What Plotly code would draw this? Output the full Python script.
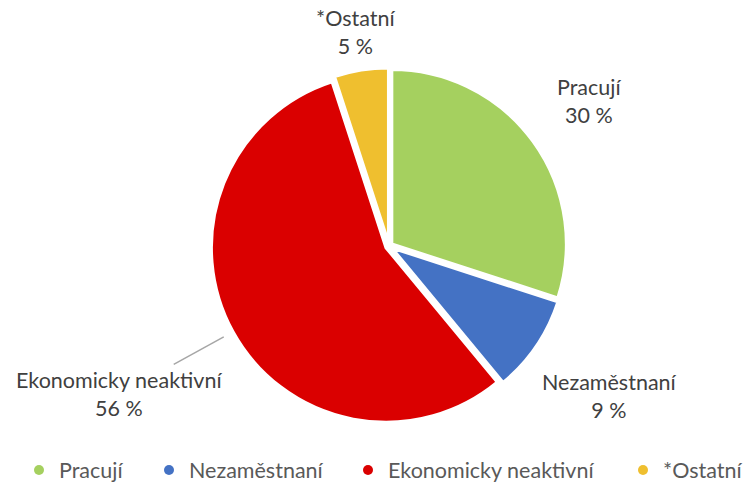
import math
import plotly.graph_objects as go

# ---- data ----
categories = ["Pracují", "Nezaměstnaní", "Ekonomicky neaktivní", "*Ostatní"]
values = [30, 9, 56, 5]
colors = ["#A5D05F", "#4472C4", "#DA0000", "#EFBF2F"]
label_dist = [1.43, 1.54, 1.78, 1.25]  # label distance factor (style)
legend_px = [39, 169, 368, 643]         # legend symbol x positions (style)

W, H = 748, 482
ML, MR, MT, MB = 30, 0, 68, 58
PW, PH = W - ML - MR, H - MT - MB
CX, CY = ML + PW / 2, MT + PH / 2
R = 173

FONT = "Lato, 'Open Sans', sans-serif"
FS = 21.5

fig = go.Figure()
fig.add_trace(go.Pie(
    labels=categories, values=values, sort=False, direction="clockwise",
    rotation=0, textinfo="none", hoverinfo="label+percent",
    marker=dict(colors=colors, line=dict(color="white", width=3)),
    pull=[0.02] * len(values), showlegend=False,
))

def to_paper(px, py):
    return (px - ML) / PW, (H - MB - py) / PH

total = sum(values)
cum = 0
annotations = []
for cat, v, d in zip(categories, values, label_dist):
    mid = (cum + v / 2) / total * 2 * math.pi
    cum += v
    px = CX + math.sin(mid) * R * d
    py = CY - math.cos(mid) * R * d
    xp, yp = to_paper(px, py)
    pct = round(v / total * 100)
    annotations.append(dict(
        x=xp, y=yp, xref="paper", yref="paper", showarrow=False,
        text=f"{cat}<br>{pct} %", align="center",
        xanchor="center", yanchor="middle",
        font=dict(family=FONT, size=FS, color="#404040"),
    ))

# leader line for the large slice
mid_e = (values[0] + values[1] + values[2] / 2) / total * 2 * math.pi
p0 = (CX + math.sin(mid_e) * R * 1.09, CY - math.cos(mid_e) * R * 1.09)
p1 = (CX + math.sin(mid_e) * R * 1.42, CY - math.cos(mid_e) * R * 1.42)
a0 = to_paper(*p0)
a1 = to_paper(*p1)
shapes = [dict(type="line", xref="paper", yref="paper",
               x0=a1[0], y0=a1[1], x1=a0[0], y1=a0[1],
               line=dict(color="#A6A6A6", width=1.5))]

legend_names = ["legend", "legend2", "legend3", "legend4"]
legend_layout = {}
ly = to_paper(0, 470)[1]
for cat, c, lname, lx in zip(categories, colors, legend_names, legend_px):
    fig.add_trace(go.Scatter(
        x=[None], y=[None], mode="markers", name=cat, legend=lname,
        marker=dict(symbol="circle", size=10, color=c),
        showlegend=True, hoverinfo="skip",
    ))
    legend_layout[lname] = dict(
        orientation="h", x=to_paper(lx - 20, 0)[0], xanchor="left",
        y=ly, yanchor="middle",
        font=dict(family=FONT, size=FS, color="#595959"),
        bgcolor="rgba(0,0,0,0)", borderwidth=0,
    )

fig.update_layout(
    width=W, height=H,
    margin=dict(l=ML, r=MR, t=MT, b=MB, autoexpand=False),
    paper_bgcolor="white", plot_bgcolor="white",
    xaxis=dict(visible=False), yaxis=dict(visible=False),
    annotations=annotations, shapes=shapes,
    font=dict(family=FONT),
    **legend_layout,
)

fig.write_html("out.html", config={"displayModeBar": False},
               post_script="document.body.style.margin='0';")
